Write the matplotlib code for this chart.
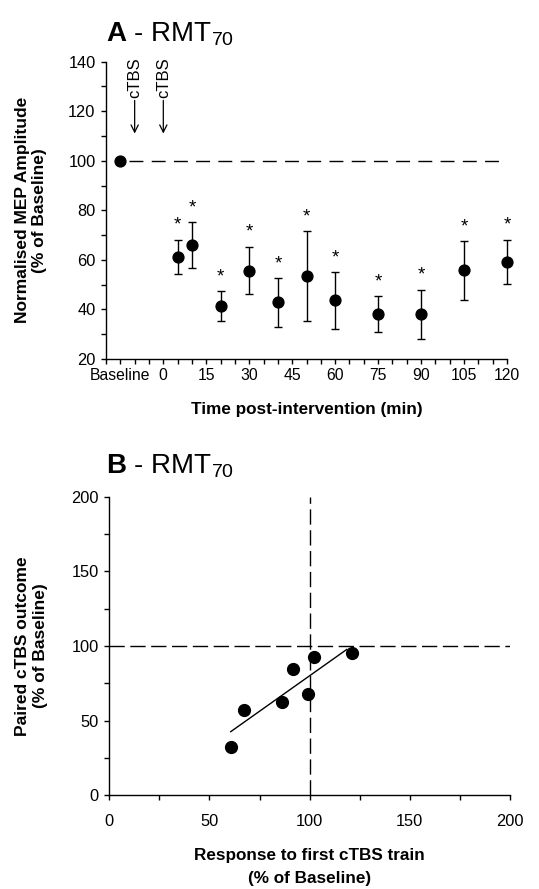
import numpy as np
import matplotlib
matplotlib.use("Agg")
import matplotlib.pyplot as plt

plt.rcParams['font.family'] = ['Liberation Sans', 'DejaVu Sans']
plt.rcParams['mathtext.fontset'] = 'custom'
plt.rcParams['mathtext.rm'] = 'Liberation Sans'
plt.rcParams['mathtext.bf'] = 'Liberation Sans:bold'

# ---------------- Panel A data ----------------
baseline_x = -15
baseline_y = 100
times = [5, 10, 20, 30, 40, 50, 60, 75, 90, 105, 120]
mep_mean = [61.3, 66.0, 41.4, 55.7, 42.8, 53.5, 43.7, 38.0, 38.0, 55.8, 59.2]
mep_err = [6.8, 9.2, 6.0, 9.6, 9.8, 18.0, 11.4, 7.3, 10.0, 11.8, 8.9]
a_tick_pos = [-15, 0, 15, 30, 45, 60, 75, 90, 105, 120]
a_tick_labels = ['Baseline', '0', '15', '30', '45', '60', '75', '90', '105', '120']
ctbs_times = [-10, 0]

# ---------------- Panel B data ----------------
first_resp = [60.6, 67.1, 86.2, 91.5, 99.3, 102.3, 121.0]
paired_out = [32.5, 57.2, 62.7, 84.5, 67.8, 92.4, 95.0]

fig = plt.figure(figsize=(5.39, 8.89), dpi=100)

# ================= Panel A =================
axA = fig.add_axes([0.1967, 0.5962, 0.744, 0.3344])
axA.plot([-12, 120], [100, 100], color='black', lw=1.0, dashes=[10, 6])
axA.plot([baseline_x], [baseline_y], 'o', color='black', ms=7.8, zorder=3, clip_on=False)
eb = axA.errorbar(times, mep_mean, yerr=mep_err, fmt='o', color='black', ms=7.8,
                  ecolor='black', elinewidth=1.0, capsize=3, capthick=1.0, zorder=3)
for art in eb.get_children():
    art.set_clip_on(False)
for t, m, e in zip(times, mep_mean, mep_err):
    axA.text(t, m + e + 4.0, '*', ha='center', va='baseline', fontsize=13.5)

for ct in ctbs_times:
    axA.annotate('cTBS', xy=(ct, 111), xytext=(ct, 125.5), rotation=90,
                 ha='center', va='bottom', fontsize=12,
                 arrowprops=dict(arrowstyle='->', lw=0.9, color='black',
                                 shrinkA=0, shrinkB=0,
                                 mutation_scale=13))

axA.set_xlim(-20, 120)
axA.set_ylim(20, 140)
axA.set_xticks(a_tick_pos)
axA.set_xticklabels(a_tick_labels)
axA.set_xticks(np.arange(-20, 121, 5), minor=True)
axA.set_yticks(np.arange(20, 141, 20))
axA.set_yticks(np.arange(20, 141, 10), minor=True)
axA.set_xlabel('Time post-intervention (min)', fontsize=12.3, fontweight='bold', labelpad=14)
axA.set_ylabel('Normalised MEP Amplitude\n(% of Baseline)', fontsize=12.5,
               fontweight='bold', labelpad=15)

# ================= Panel B =================
axB = fig.add_axes([0.2028, 0.1054, 0.7434, 0.3359])
axB.plot([0, 200], [100, 100], color='black', lw=1.0, dashes=[11, 4])
axB.plot([100, 100], [0, 200], color='black', lw=1.0, dashes=[11, 4])
axB.plot(first_resp, paired_out, 'o', color='black', ms=8.5, zorder=3)
slope, intercept = np.polyfit(first_resp, paired_out, 1)
fx = np.array([min(first_resp), 118.5])
axB.plot(fx, slope * fx + intercept, color='black', lw=1.0)

axB.set_xlim(0, 200)
axB.set_ylim(0, 200)
axB.set_xticks(np.arange(0, 201, 50))
axB.set_xticks(np.arange(0, 201, 25), minor=True)
axB.set_yticks(np.arange(0, 201, 50))
axB.set_yticks(np.arange(0, 201, 25), minor=True)
axB.set_xlabel('Response to first cTBS train\n(% of Baseline)', fontsize=12.3,
               fontweight='bold', labelpad=14, linespacing=1.6)
axB.set_ylabel('Paired cTBS outcome\n(% of Baseline)', fontsize=12.5,
               fontweight='bold', labelpad=17)

for ax in (axA, axB):
    for s in ('top', 'right'):
        ax.spines[s].set_visible(False)
    for s in ('left', 'bottom'):
        ax.spines[s].set_linewidth(1.0)
    ax.tick_params(which='both', direction='out', length=3.5, width=1.0,
                   labelsize=11.8, colors='black')
    ax.tick_params(axis='y', which='major', pad=4)
axA.tick_params(axis='x', which='major', pad=3, labelsize=11.3)
axB.tick_params(axis='x', which='major', pad=10)

fig.text(0.197, 0.962, r'$\mathbf{A}$ - RMT$_{70}$', fontsize=20, va='center', ha='left')
fig.text(0.197, 0.476, r'$\mathbf{B}$ - RMT$_{70}$', fontsize=20, va='center', ha='left')

fig.savefig('out.png', dpi=100)
